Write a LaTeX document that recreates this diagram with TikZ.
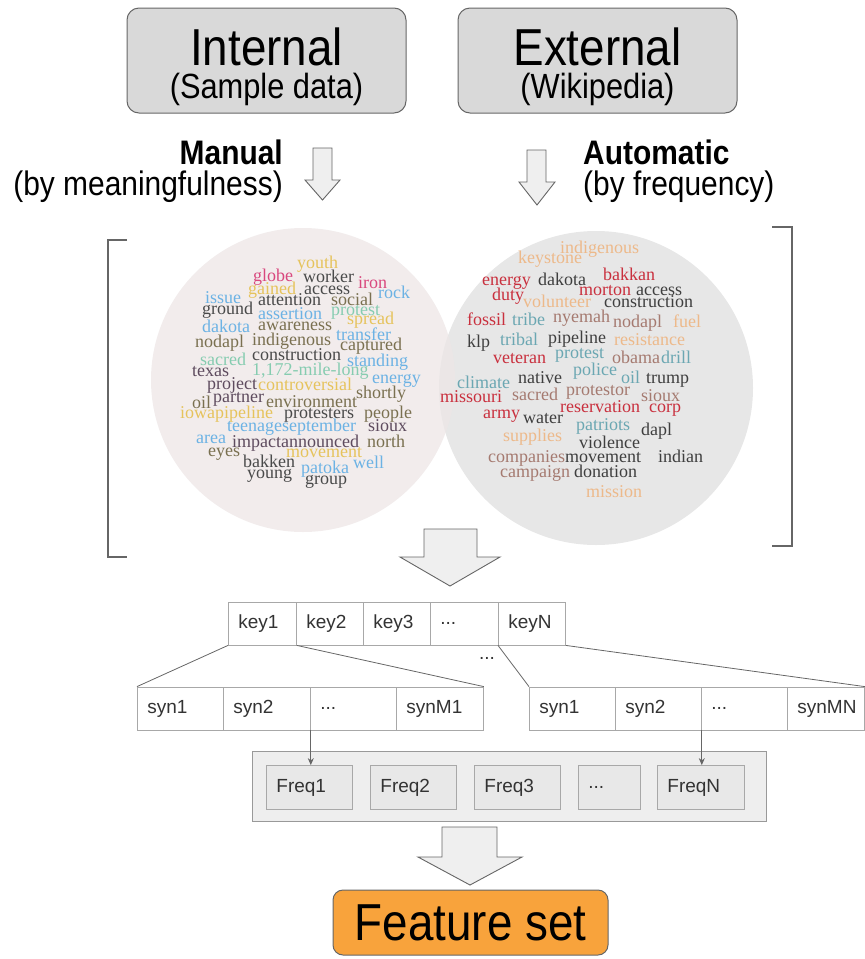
\documentclass[tikz,border=0pt]{standalone}
\usepackage{fontspec}
\usetikzlibrary{arrows.meta}
\newfontfamily\condsans[FakeStretch=0.88]{Liberation Sans}
\newfontfamily\plainsans{Liberation Sans}
\newfontfamily\cloudserif{Liberation Serif}
\definecolor{boxfill}{HTML}{D9D9D9}
\definecolor{boxline}{HTML}{666666}
\definecolor{arrfill}{HTML}{EFEFEF}
\definecolor{arrline}{HTML}{666666}
\definecolor{cellline}{HTML}{A8A8A8}
\definecolor{celltext}{HTML}{333333}
\definecolor{freqfill}{HTML}{E8E8E8}
\definecolor{contfill}{HTML}{EEEEEE}
\definecolor{contline}{HTML}{999999}
\definecolor{featfill}{HTML}{F8A33C}
\definecolor{leftcirc}{HTML}{EDE6E6}
\definecolor{rightcirc}{HTML}{E7E7E7}
\definecolor{cy}{HTML}{E6C35C}
\definecolor{cp}{HTML}{D9487E}
\definecolor{cd}{HTML}{4A4A4A}
\definecolor{cb}{HTML}{6CB2E4}
\definecolor{cg}{HTML}{86CCB0}
\definecolor{co}{HTML}{7A7050}
\definecolor{cu}{HTML}{5E4B5E}
\definecolor{rp}{HTML}{EDB98A}
\definecolor{rr}{HTML}{C9303E}
\definecolor{rd}{HTML}{3F3F3F}
\definecolor{rt}{HTML}{6BA7B2}
\definecolor{rb}{HTML}{A57A70}
\newcounter{wordno}
\newcommand{\cw}[4]{\stepcounter{wordno}\node[cloudword, text=#3] (word\arabic{wordno}) at (#1,#2) {#4};}
\begin{document}
\begin{tikzpicture}[x=1pt,y=-1pt,
  srcbox/.style={draw=boxline, fill=boxfill, rounded corners=12pt, line width=1pt, minimum width=279pt, minimum height=105pt, inner sep=0pt},
  bigarrow/.style={draw=arrline, fill=arrfill, line width=0.9pt, line join=miter},
  cell/.style={draw=cellline, fill=white, line width=0.8pt, minimum height=43pt, inner xsep=10pt, inner ysep=0pt, align=left, anchor=west, font=\plainsans\fontsize{19}{19}\selectfont, text=celltext},
  freqcell/.style={cell, fill=freqfill, minimum height=44pt},
  conn/.style={draw=boxline, line width=0.8pt},
  bracket/.style={draw=boxline, line width=1.3pt},
  cloudword/.style={anchor=base west, inner sep=0pt, font=\cloudserif\fontsize{18}{18}\selectfont},
  titlefont/.style={font=\condsans\fontsize{52}{52}\selectfont},
  subfont/.style={font=\condsans\fontsize{35}{35}\selectfont},
  labfont/.style={font=\condsans\fontsize{34}{34}\selectfont},
  labbold/.style={font=\condsans\bfseries\fontsize{34}{34}\selectfont}
]
\useasboundingbox (0,0) rectangle (865,959);

% source boxes
\node[srcbox] (intbox) at (266.5,60.5) {};
\node[srcbox] (extbox) at (597.5,60.5) {};
\node[titlefont, anchor=base] (inttitle) at (266.5,65) {Internal};
\node[subfont, anchor=base] (intsub) at (266.5,98) {(Sample data)};
\node[titlefont, anchor=base] (exttitle) at (597.5,65) {External};
\node[subfont, anchor=base] (extsub) at (597.5,98) {(Wikipedia)};

% labels
\node[labbold, anchor=base east, inner sep=0pt] (manual) at (283,164) {Manual};
\node[labfont, anchor=base east, inner sep=0pt] (manualsub) at (283,195) {(by meaningfulness)};
\node[labbold, anchor=base west, inner sep=0pt] (auto) at (583,164) {Automatic};
\node[labfont, anchor=base west, inner sep=0pt] (autosub) at (583,195) {(by frequency)};

% small arrows
\draw[bigarrow] (313,148) -- (332,148) -- (332,180) -- (340,180) -- (322.5,200) -- (305,180) -- (313,180) -- cycle;
\draw[bigarrow] (527,150) -- (546,150) -- (546,182) -- (555,182) -- (537,205) -- (519,182) -- (527,182) -- cycle;

% circles
\fill[rightcirc] (596,388) circle[radius=157pt];
\fill[leftcirc, fill opacity=0.75] (303,380) circle[radius=152pt];

% brackets
\draw[bracket] (127,240) -- (108,240) -- (108,557) -- (127,557);
\draw[bracket] (772,227) -- (792,227) -- (792,546) -- (772,546);

% left word cloud
\cw{297}{268}{cy}{youth}
\cw{253}{281}{cp}{globe}
\cw{303}{282}{cd}{worker}
\cw{358}{288}{cp}{iron}
\cw{248}{294}{cy}{gained}
\cw{304}{294}{cd}{access}
\cw{378}{298}{cb}{rock}
\cw{205}{303}{cb}{issue}
\cw{258}{305}{cd}{attention}
\cw{331}{305}{co}{social}
\cw{202}{314}{cd}{ground}
\cw{258}{319}{cb}{assertion}
\cw{331}{315}{cg}{protest}
\cw{347}{324}{cy}{spread}
\cw{202}{332}{cb}{dakota}
\cw{258}{330}{co}{awareness}
\cw{336}{340}{cb}{transfer}
\cw{195}{347}{co}{nodapl}
\cw{252}{345}{co}{indigenous}
\cw{340}{350}{co}{captured}
\cw{200}{365}{cg}{sacred}
\cw{252}{360}{cd}{construction}
\cw{347}{366}{cb}{standing}
\cw{192}{376}{cu}{texas}
\cw{252}{375}{cg}{1,172-mile-long}
\cw{372}{383}{cb}{energy}
\cw{207}{389}{cu}{project}
\cw{258}{390}{cy}{controversial}
\cw{356}{398}{co}{shortly}
\cw{192}{408}{co}{oil}
\cw{213}{402}{cu}{partner}
\cw{266}{407}{co}{environment}
\cw{180}{418}{cy}{iowapipeline}
\cw{284}{418}{cd}{protesters}
\cw{364}{418}{co}{people}
\cw{227}{431}{cb}{teenageseptember}
\cw{368}{431}{cu}{sioux}
\cw{196}{443}{cb}{area}
\cw{232}{447}{cu}{impactannounced}
\cw{367}{447}{co}{north}
\cw{208}{456}{co}{eyes}
\cw{286}{457}{cy}{movement}
\cw{243}{467}{cd}{bakken}
\cw{301}{473}{cb}{patoka}
\cw{353}{468}{cb}{well}
\cw{247}{478}{cd}{young}
\cw{305}{484}{cd}{group}

% right word cloud
\cw{560}{253}{rp}{indigenous}
\cw{518}{263}{rp}{keystone}
\cw{482}{285}{rr}{energy}
\cw{538}{285}{rd}{dakota}
\cw{603}{280}{rr}{bakkan}
\cw{579}{295}{rr}{morton}
\cw{636}{295}{rd}{access}
\cw{492}{300}{rr}{duty}
\cw{523}{307}{rp}{volunteer}
\cw{604}{307}{rd}{construction}
\cw{467}{325}{rr}{fossil}
\cw{512}{325}{rt}{tribe}
\cw{553}{322}{rb}{nyemah}
\cw{613}{327}{rb}{nodapl}
\cw{673}{327}{rp}{fuel}
\cw{467}{347}{rd}{klp}
\cw{500}{345}{rt}{tribal}
\cw{548}{343}{rd}{pipeline}
\cw{614}{345}{rp}{resistance}
\cw{493}{363}{rr}{veteran}
\cw{555}{358}{rt}{protest}
\cw{612}{363}{rb}{obama}
\cw{661}{363}{rt}{drill}
\cw{573}{375}{rt}{police}
\cw{518}{383}{rd}{native}
\cw{621}{383}{rt}{oil}
\cw{646}{383}{rd}{trump}
\cw{457}{388}{rt}{climate}
\cw{512}{400}{rb}{sacred}
\cw{566}{395}{rb}{protestor}
\cw{641}{401}{rb}{sioux}
\cw{440}{402}{rr}{missouri}
\cw{560}{412}{rr}{reservation}
\cw{649}{412}{rr}{corp}
\cw{483}{418}{rr}{army}
\cw{523}{423}{rd}{water}
\cw{576}{430}{rt}{patriots}
\cw{641}{435}{rd}{dapl}
\cw{503}{441}{rp}{supplies}
\cw{579}{448}{rd}{violence}
\cw{488}{462}{rb}{companies}
\cw{565}{462}{rd}{movement}
\cw{658}{462}{rd}{indian}
\cw{500}{477}{rb}{campaign}
\cw{574}{477}{rd}{donation}
\cw{586}{497}{rp}{mission}

% middle arrow
\draw[bigarrow] (424,529) -- (477,529) -- (477,557) -- (500,557) -- (450,586) -- (400,557) -- (424,557) -- cycle;

% key row
\node[cell, text width=48pt] (key1) at (228,623.5) {key1};
\node[cell, text width=47pt] (key2) at (296,623.5) {key2};
\node[cell, text width=47pt] (key3) at (363,623.5) {key3};
\node[cell, text width=48pt] (keyd) at (430,623.5) {...};
\node[cell, text width=47pt] (keyN) at (498,623.5) {keyN};
\node[font=\plainsans\fontsize{19}{19}\selectfont, text=celltext, inner sep=0pt] (middots) at (487,658) {...};

% synonym rows
\node[cell, text width=66pt] (synL1) at (137,708.5) {syn1};
\node[cell, text width=67pt] (synL2) at (223,708.5) {syn2};
\node[cell, text width=66pt] (synLd) at (310,708.5) {...};
\node[cell, text width=67pt] (synLM) at (396,708.5) {synM1};
\node[cell, text width=66pt] (synR1) at (529,708.5) {syn1};
\node[cell, text width=66pt] (synR2) at (615,708.5) {syn2};
\node[cell, text width=66pt] (synRd) at (701,708.5) {...};
\node[cell, text width=57pt] (synRM) at (787,708.5) {synMN};

\draw[conn] (key1.south west) -- (synL1.north west);
\draw[conn] (key1.south east) -- (synLM.north east);
\draw[conn] (keyN.south west) -- (synR1.north west);
\draw[conn] (keyN.south east) -- (synRM.north east);

% frequency container
\node[draw=contline, fill=contfill, line width=1pt, minimum width=514pt, minimum height=70pt, anchor=north west, inner sep=0pt] (freqs) at (252,751) {};
\node[freqcell, text width=66pt] (freq1) at (266,787.5) {Freq1};
\node[freqcell, text width=66pt] (freq2) at (370,787.5) {Freq2};
\node[freqcell, text width=66pt] (freq3) at (474,787.5) {Freq3};
\node[freqcell, text width=42pt] (freqd) at (578,787.5) {...};
\node[freqcell, text width=67pt] (freqN) at (657,787.5) {FreqN};

\draw[conn, -{Stealth[length=7pt,width=6pt]}] (synL2.south east) -- (synL2.south east |- freq1.north);
\draw[conn, -{Stealth[length=7pt,width=6pt]}] (synR2.south east) -- (synR2.south east |- freqN.north);

% bottom arrow
\draw[bigarrow] (442,827) -- (497,827) -- (497,857) -- (522,857) -- (470,885) -- (418,857) -- (442,857) -- cycle;

% feature set
\node[draw=boxline, fill=featfill, rounded corners=10pt, line width=1pt, minimum width=275pt, minimum height=65pt, inner sep=0pt, titlefont] (feat) at (470.5,922.5) {Feature set};
\end{tikzpicture}
\end{document}
